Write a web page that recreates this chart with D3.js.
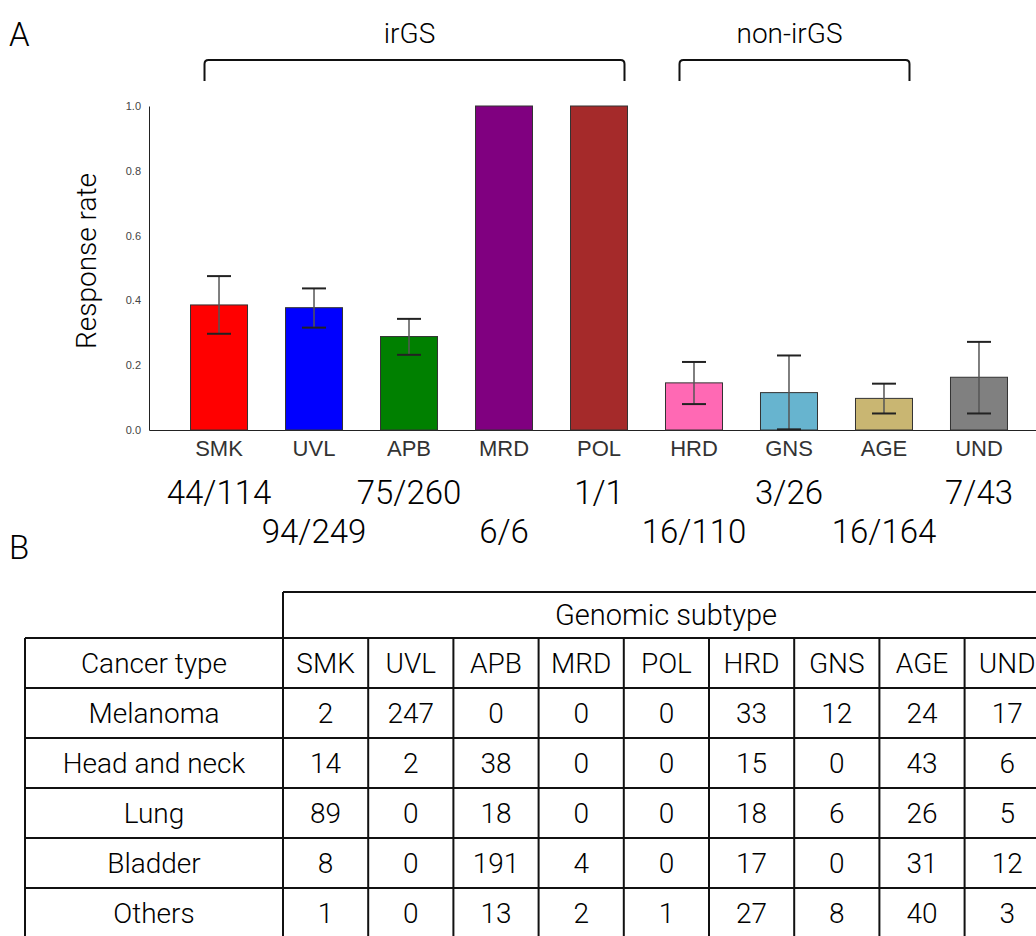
<!DOCTYPE html>
<html>
<head>
<meta charset="utf-8">
<script src="https://cdn.jsdelivr.net/npm/d3@7"></script>
<style>
  body { margin: 0; background: #fff; }
  svg { display: block; font-family: Roboto, "Liberation Sans", Arial, sans-serif; font-weight: 300; }
</style>
</head>
<body>
<div id="container"></div>
<script>
/* DATA */
const subtypes = ["SMK", "UVL", "APB", "MRD", "POL", "HRD", "GNS", "AGE", "UND"];
const responders = [44, 94, 75, 6, 1, 16, 3, 16, 7];
const totals = [114, 249, 260, 6, 1, 110, 26, 164, 43];
const errLow = [0.297, 0.316, 0.232, 1, 1, 0.080, 0.002, 0.051, 0.051];
const errHigh = [0.475, 0.437, 0.343, 1, 1, 0.210, 0.230, 0.143, 0.272];
const barColors = ["#ff0000", "#0000ff", "#008000", "#800080", "#a52a2a",
                   "#ff69b4", "#67b4cf", "#c9b672", "#808080"];
const yTicks = [0, 0.2, 0.4, 0.6, 0.8, 1.0];
const groupNames = ["irGS", "non-irGS"];
const groupFrom = ["SMK", "HRD"];
const groupTo = ["POL", "AGE"];

const cancerTypes = ["Melanoma", "Head and neck", "Lung", "Bladder", "Others"];
const counts = [
  [2, 247, 0, 0, 0, 33, 12, 24, 17],
  [14, 2, 38, 0, 0, 15, 0, 43, 6],
  [89, 0, 18, 0, 0, 18, 6, 26, 5],
  [8, 0, 191, 4, 0, 17, 0, 31, 12],
  [1, 0, 13, 2, 1, 27, 8, 40, 3]
];

const data = subtypes.map((s, i) => ({
  name: s,
  r: responders[i],
  n: totals[i],
  rate: responders[i] / totals[i],
  lo: errLow[i],
  hi: errHigh[i],
  color: barColors[i]
}));
const groups = groupNames.map((g, i) => ({name: g, from: groupFrom[i], to: groupTo[i]}));

/* CONSTANTS */
const width = 1036, height = 936;

const svg = d3.select("#container")
  .append("svg")
  .attr("width", width)
  .attr("height", height);

/* SCALES */
const x = d3.scaleBand()
  .domain(subtypes)
  .range([149, 1049])
  .paddingInner(0.4)
  .paddingOuter(0.437);

const y = d3.scaleLinear()
  .domain([0, 1])
  .range([430, 106]);

/* PANEL LETTERS */
svg.append("text").attr("x", 9).attr("y", 46)
  .style("font-size", "33px").text("A");
svg.append("text").attr("x", 9).attr("y", 559)
  .style("font-size", "33px").text("B");

/* AXES */
const yAxis = svg.append("g")
  .attr("transform", "translate(149,0)")
  .call(d3.axisLeft(y).tickValues(yTicks).tickFormat(d3.format(".1f")).tickSize(0).tickPadding(8));
yAxis.select(".domain").attr("stroke", "#222");
yAxis.selectAll("text").style("font-size", "11px").style("font-weight", 400)
  .style("font-family", "'Liberation Sans', Arial, sans-serif").attr("fill", "#444");

const xAxis = svg.append("g")
  .attr("transform", "translate(0,430)")
  .call(d3.axisBottom(x).tickSize(0).tickPadding(10));
xAxis.select(".domain").attr("stroke", "#222");
xAxis.selectAll("text").style("font-size", "22px").style("font-weight", 400)
  .style("font-family", "'Liberation Sans', Arial, sans-serif").attr("fill", "#333");

svg.append("text")
  .attr("transform", "translate(96,261) rotate(-90)")
  .attr("text-anchor", "middle")
  .style("font-size", "28px")
  .text("Response rate");

/* BARS */
svg.selectAll(".bar")
  .data(data)
  .join("rect")
  .attr("class", "bar")
  .attr("x", d => x(d.name))
  .attr("width", x.bandwidth())
  .attr("y", d => y(d.rate))
  .attr("height", d => y(0) - y(d.rate))
  .attr("fill", d => d.color)
  .attr("stroke", "#333")
  .attr("stroke-width", 1);

// error bars
const cap = 12;
const err = svg.selectAll(".err")
  .data(data.filter(d => d.hi > d.lo))
  .join("g")
  .attr("class", "err");
err.append("line")
  .attr("x1", d => x(d.name) + x.bandwidth() / 2)
  .attr("x2", d => x(d.name) + x.bandwidth() / 2)
  .attr("y1", d => y(d.lo))
  .attr("y2", d => y(d.hi))
  .attr("stroke", "#555")
  .attr("stroke-width", 1.5);
["lo", "hi"].forEach(k => {
  err.append("line")
    .attr("x1", d => x(d.name) + x.bandwidth() / 2 - cap)
    .attr("x2", d => x(d.name) + x.bandwidth() / 2 + cap)
    .attr("y1", d => y(d[k]))
    .attr("y2", d => y(d[k]))
    .attr("stroke", "#222")
    .attr("stroke-width", 2);
});

/* RATIO LABELS */
svg.selectAll(".ratio")
  .data(data)
  .join("text")
  .attr("class", "ratio")
  .attr("x", d => x(d.name) + x.bandwidth() / 2)
  .attr("y", (d, i) => i % 2 === 0 ? 504 : 543)
  .attr("text-anchor", "middle")
  .style("font-size", "33px")
  .text(d => d.r + "/" + d.n);

/* GROUP BRACKETS */
const br = svg.selectAll(".bracket")
  .data(groups)
  .join("g")
  .attr("class", "bracket");
const bx0 = g => x(g.from) + 14;
const bx1 = g => x(g.to) + x.bandwidth() - 3;
br.append("path")
  .attr("d", g => {
    const x0 = bx0(g), x1 = bx1(g);
    return `M${x0},81 V64 Q${x0},60 ${x0 + 4},60 H${x1 - 4} Q${x1},60 ${x1},64 V81`;
  })
  .attr("fill", "none")
  .attr("stroke", "#111")
  .attr("stroke-width", 2);
br.append("text")
  .attr("x", g => (bx0(g) + bx1(g)) / 2 - 5)
  .attr("y", 43)
  .attr("text-anchor", "middle")
  .style("font-size", "28px")
  .text(g => g.name);

/* TABLE */
const col = d3.scaleBand()
  .domain(subtypes)
  .range([283, 283 + 85.2 * subtypes.length]);
const row = d3.scaleBand()
  .domain(["head", ...cancerTypes])
  .range([638, 938]);
const tableLeft = 25, tableRight = 1060;

const tbl = svg.append("g")
  .attr("stroke", "#111")
  .attr("stroke-width", 2);

// top spanning header box
tbl.append("line").attr("x1", 283).attr("x2", tableRight).attr("y1", 592).attr("y2", 592);
tbl.append("line").attr("x1", 283).attr("x2", 283).attr("y1", 592).attr("y2", 640);

// horizontal lines
tbl.selectAll(".hline")
  .data(["head", ...cancerTypes])
  .join("line")
  .attr("x1", tableLeft).attr("x2", tableRight)
  .attr("y1", d => row(d)).attr("y2", d => row(d));
tbl.append("line")
  .attr("x1", tableLeft).attr("x2", tableRight)
  .attr("y1", row.range()[1]).attr("y2", row.range()[1]);

// vertical lines
tbl.append("line").attr("x1", tableLeft).attr("x2", tableLeft)
  .attr("y1", row.range()[0]).attr("y2", row.range()[1]);
tbl.selectAll(".vline")
  .data(subtypes)
  .join("line")
  .attr("x1", d => col(d)).attr("x2", d => col(d))
  .attr("y1", row.range()[0]).attr("y2", row.range()[1]);

svg.append("text")
  .attr("x", 666).attr("y", 625)
  .attr("text-anchor", "middle")
  .style("font-size", "29px")
  .text("Genomic subtype");

const cellText = (sel) => sel
  .attr("text-anchor", "middle")
  .attr("dy", "0.35em")
  .style("font-size", "28px");

svg.append("text")
  .attr("x", (tableLeft + 283) / 2)
  .attr("y", row("head") + row.bandwidth() / 2)
  .call(cellText)
  .text("Cancer type");

svg.selectAll(".colhead")
  .data(subtypes)
  .join("text")
  .attr("class", "colhead")
  .attr("x", d => col(d) + col.bandwidth() / 2)
  .attr("y", row("head") + row.bandwidth() / 2)
  .call(cellText)
  .text(d => d);

svg.selectAll(".rowhead")
  .data(cancerTypes)
  .join("text")
  .attr("class", "rowhead")
  .attr("x", (tableLeft + 283) / 2)
  .attr("y", d => row(d) + row.bandwidth() / 2)
  .call(cellText)
  .text(d => d);

cancerTypes.forEach((t, ri) => {
  svg.selectAll(".cell-" + ri)
    .data(counts[ri])
    .join("text")
    .attr("class", "cell-" + ri)
    .attr("x", (d, ci) => col(subtypes[ci]) + col.bandwidth() / 2)
    .attr("y", row(t) + row.bandwidth() / 2)
    .call(cellText)
    .text(d => d);
});
</script>
</body>
</html>
